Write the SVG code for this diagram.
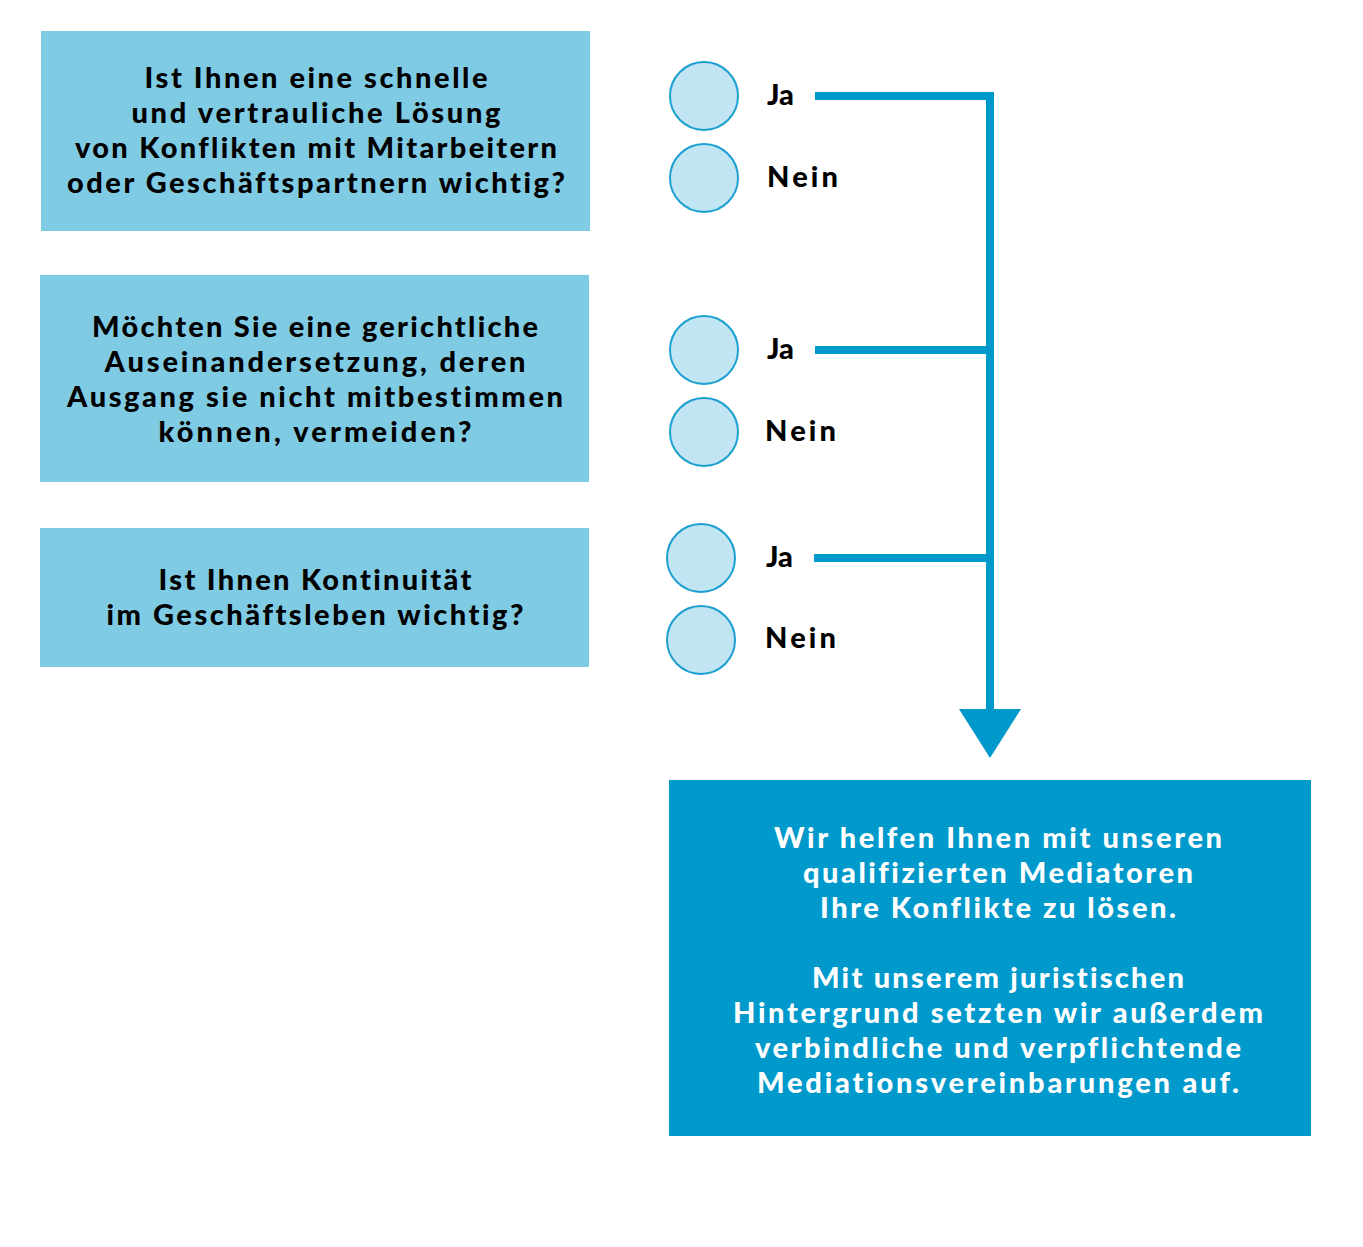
<svg xmlns="http://www.w3.org/2000/svg" width="1363" height="1247" viewBox="0 0 1363 1247">
<style>
.q{fill:#80cbe4}
.r{fill:#0099cc}
.t,.l{font-family:Lato,"Noto Sans","Liberation Sans",sans-serif;font-weight:900;font-size:29px;fill:#000;font-variant-ligatures:none;font-feature-settings:"liga" 0,"clig" 0}
.t{text-anchor:middle}
.w{fill:#fff}
.c{fill:#c2e5f3;stroke:#1a9fd0;stroke-width:2}
.k{stroke:#0099cc;stroke-width:8;fill:none}
</style>
<rect width="1363" height="1247" fill="#fff"/>
<g id="q1">
<rect class="q" x="41" y="31" width="549" height="200"/>
<text class="t" x="316" y="88" textLength="343" lengthAdjust="spacing">Ist Ihnen eine schnelle</text>
<text class="t" x="316" y="123" textLength="369" lengthAdjust="spacing">und vertrauliche Lösung</text>
<text class="t" x="316" y="158" textLength="482" lengthAdjust="spacing">von Konflikten mit Mitarbeitern</text>
<text class="t" x="316" y="193" textLength="498" lengthAdjust="spacing">oder Geschäftspartnern wichtig?</text>
</g>
<g id="q2">
<rect class="q" x="40" y="275" width="549" height="207"/>
<text class="t" x="315" y="337" textLength="446" lengthAdjust="spacing">Möchten Sie eine gerichtliche</text>
<text class="t" x="315" y="372" textLength="421" lengthAdjust="spacing">Auseinandersetzung, deren</text>
<text class="t" x="315" y="407" textLength="496" lengthAdjust="spacing">Ausgang sie nicht mitbestimmen</text>
<text class="t" x="315" y="442" textLength="313" lengthAdjust="spacing">können, vermeiden?</text>
</g>
<g id="q3">
<rect class="q" x="40" y="528" width="549" height="139"/>
<text class="t" x="315" y="590" textLength="313" lengthAdjust="spacing">Ist Ihnen Kontinuität</text>
<text class="t" x="315" y="625" textLength="417" lengthAdjust="spacing">im Geschäftsleben wichtig?</text>
</g>
<g id="a1-ja"><circle class="c" cx="704" cy="96" r="34"/><text class="l" x="767" y="105">Ja</text></g>
<g id="a1-nein"><circle class="c" cx="704" cy="178" r="34"/><text class="l" x="767" y="187" textLength="71" lengthAdjust="spacing">Nein</text></g>
<g id="a2-ja"><circle class="c" cx="704" cy="350" r="34"/><text class="l" x="767" y="359">Ja</text></g>
<g id="a2-nein"><circle class="c" cx="704" cy="432" r="34"/><text class="l" x="765" y="441" textLength="71" lengthAdjust="spacing">Nein</text></g>
<g id="a3-ja"><circle class="c" cx="701" cy="558" r="34"/><text class="l" x="766" y="567">Ja</text></g>
<g id="a3-nein"><circle class="c" cx="701" cy="640" r="34"/><text class="l" x="765" y="648" textLength="71" lengthAdjust="spacing">Nein</text></g>
<g id="connectors">
<polyline class="k" points="815,96 990,96 990,712"/>
<line class="k" x1="815" y1="350" x2="990" y2="350"/>
<line class="k" x1="814" y1="558" x2="990" y2="558"/>
<polygon fill="#0099cc" points="959,709 1021,709 990,758"/>
</g>
<g id="result">
<rect class="r" x="669" y="780" width="642" height="356"/>
<text class="t w" x="998" y="848" textLength="448" lengthAdjust="spacing">Wir helfen Ihnen mit unseren</text>
<text class="t w" x="998" y="883" textLength="390" lengthAdjust="spacing">qualifizierten Mediatoren</text>
<text class="t w" x="998" y="918" textLength="356" lengthAdjust="spacing">Ihre Konflikte zu lösen.</text>
<text class="t w" x="998" y="988" textLength="372" lengthAdjust="spacing">Mit unserem juristischen</text>
<text class="t w" x="998" y="1023" textLength="530" lengthAdjust="spacing">Hintergrund setzten wir außerdem</text>
<text class="t w" x="998" y="1058" textLength="486" lengthAdjust="spacing">verbindliche und verpflichtende</text>
<text class="t w" x="998" y="1093" textLength="482" lengthAdjust="spacing">Mediationsvereinbarungen auf.</text>
</g>
</svg>
